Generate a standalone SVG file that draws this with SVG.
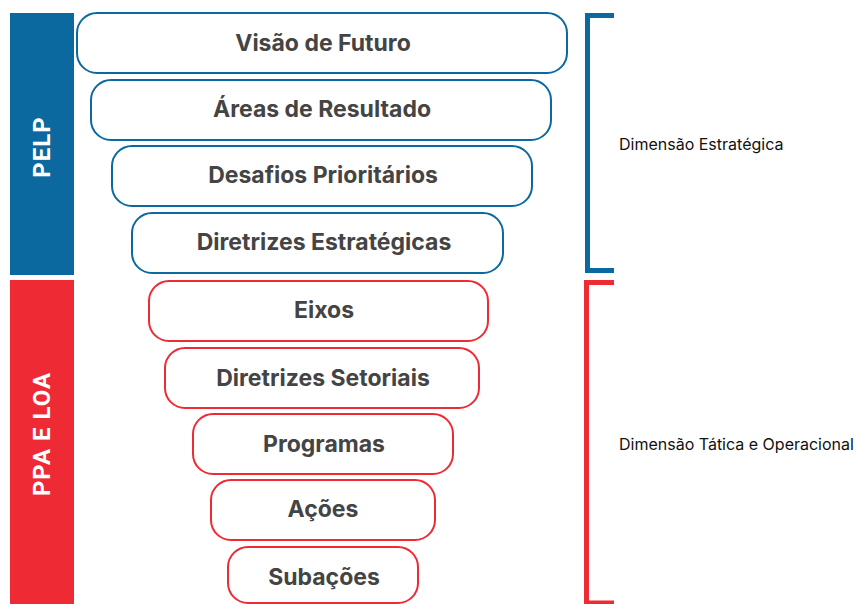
<svg xmlns="http://www.w3.org/2000/svg" width="858" height="604" viewBox="0 0 858 604">
<style>
.bx{fill:#fff;stroke-width:2}
.b{stroke:#0b69a0}
.r{stroke:#ee2a35}
.lbl{font-family:Inter,Roboto,"Liberation Sans",sans-serif;font-weight:bold;font-size:23px;fill:#444;text-anchor:middle}
.side{font-family:Roboto,"Liberation Sans",sans-serif;font-weight:bold;font-size:24px;fill:#fff;text-anchor:middle;letter-spacing:1px}
.dim{font-family:Inter,"Liberation Sans",sans-serif;font-size:16px;fill:#111}
.br{fill:none;stroke-width:5}
</style>
<rect x="0" y="0" width="858" height="604" fill="#fff"/>
<g id="pelp-bar"><rect x="10" y="13" width="64" height="262" fill="#0b69a0"/><text class="side" transform="translate(50,147) rotate(-90)">PELP</text></g>
<g id="ppa-bar"><rect x="10" y="280" width="64" height="324" fill="#ee2a35"/><text class="side" transform="translate(50,434) rotate(-90)">PPA E LOA</text></g>
<g id="n1"><rect class="bx b" x="77" y="13" width="490" height="60" rx="20"/><text class="lbl" x="323" y="51">Visão de Futuro</text></g>
<g id="n2"><rect class="bx b" x="91" y="80" width="460" height="60" rx="20"/><text class="lbl" x="322" y="117">Áreas de Resultado</text></g>
<g id="n3"><rect class="bx b" x="112" y="146" width="420" height="60" rx="20"/><text class="lbl" x="323" y="183">Desafios Prioritários</text></g>
<g id="n4"><rect class="bx b" x="132" y="213" width="371" height="60" rx="20"/><text class="lbl" x="324" y="250">Diretrizes Estratégicas</text></g>
<g id="n5"><rect class="bx r" x="149" y="281" width="339" height="60" rx="20"/><text class="lbl" x="324" y="318">Eixos</text></g>
<g id="n6"><rect class="bx r" x="165" y="348" width="314" height="60" rx="20"/><text class="lbl" x="323" y="386">Diretrizes Setoriais</text></g>
<g id="n7"><rect class="bx r" x="193" y="414" width="260" height="60" rx="20"/><text class="lbl" x="324" y="452">Programas</text></g>
<g id="n8"><rect class="bx r" x="211" y="480" width="224" height="60" rx="20"/><text class="lbl" x="323" y="517">Ações</text></g>
<g id="n9"><rect class="bx r" x="228" y="547" width="190" height="56" rx="20"/><text class="lbl" x="324" y="585">Subações</text></g>
<g id="connectors">
<path class="br" d="M614,15.5 H587.5 V270.5 H614" stroke="#0b69a0"/>
<path class="br" d="M614,282.5 H586.5 V603 H614" stroke="#ee2a35"/>
</g>
<text class="dim" x="619" y="150">Dimensão Estratégica</text>
<text class="dim" x="619" y="450">Dimensão Tática e Operacional</text>
</svg>
